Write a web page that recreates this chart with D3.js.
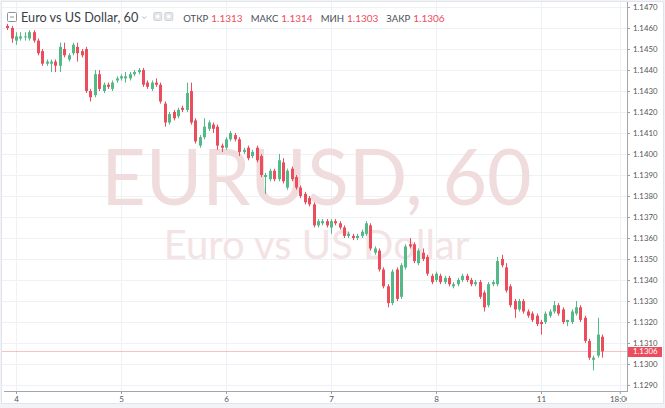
<!DOCTYPE html>
<html>
<head>
<meta charset="utf-8">
<script src="https://d3js.org/d3.v7.min.js"></script>
<style>
  body { margin: 0; background: #fff; }
  svg { display: block; }
</style>
</head>
<body>
<div id="chart"></div>
<script>
var w = 665, h = 408;

// hourly bars, index 0 is 22:00 on the 3rd
var opens = [
  1.1461,1.1460,1.1454,1.1455,1.1456,1.1455,1.1458,1.1454,1.1449,1.1443,
  1.1443,1.1444,1.1442,1.1450,1.1445,1.1448,1.1451,1.1449,1.1450,1.1430,
  1.1428,1.1438,1.1430,1.1433,1.1431,1.1435,1.1436,1.1436,1.1436,1.1438,
  1.1439,1.1440,1.1434,1.1431,1.1434,1.1433,1.1424,1.1415,1.1420,1.1418,
  1.1422,1.1421,1.1430,1.1416,1.1404,1.1408,1.1412,1.1414,1.1413,1.1404,
  1.1403,1.1407,1.1409,1.1407,1.1401,1.1403,1.1399,1.1403,1.1399,1.1389,
  1.1388,1.1392,1.1388,1.1396,1.1384,1.1393,1.1389,1.1384,1.1381,1.1379,
  1.1376,1.1366,1.1367,1.1368,1.1365,1.1368,1.1367,1.1365,1.1361,1.1361,
  1.1360,1.1361,1.1362,1.1366,1.1353,1.1354,1.1345,1.1337,1.1329,1.1345,
  1.1332,1.1346,1.1357,1.1357,1.1348,1.1353,1.1351,1.1342,1.1340,1.1342,
  1.1339,1.1341,1.1337,1.1338,1.1340,1.1342,1.1340,1.1338,1.1339,1.1334,
  1.1328,1.1338,1.1338,1.1350,1.1346,1.1337,1.1330,1.1326,1.1330,1.1325,
  1.1324,1.1323,1.1320,1.1320,1.1323,1.1325,1.1328,1.1326,1.1320,1.1320,
  1.1324,1.1327,1.1322,1.1311,1.1302,1.1304,1.1313
];
var highs = [
  1.1462,1.1461,1.1458,1.1458,1.1458,1.1459,1.1459,1.1455,1.1450,1.1445,
  1.1445,1.1445,1.1453,1.1453,1.1448,1.1453,1.1453,1.1450,1.1451,1.1431,
  1.1440,1.1440,1.1434,1.1434,1.1435,1.1437,1.1438,1.1439,1.1439,1.1440,
  1.1441,1.1441,1.1435,1.1435,1.1436,1.1434,1.1425,1.1420,1.1421,1.1422,
  1.1423,1.1434,1.1434,1.1417,1.1409,1.1417,1.1416,1.1415,1.1414,1.1405,
  1.1408,1.1411,1.1410,1.1408,1.1403,1.1404,1.1402,1.1404,1.1400,1.1391,
  1.1393,1.1393,1.1400,1.1398,1.1393,1.1394,1.1390,1.1385,1.1382,1.1380,
  1.1377,1.1369,1.1369,1.1369,1.1369,1.1369,1.1368,1.1366,1.1363,1.1362,
  1.1362,1.1364,1.1368,1.1367,1.1356,1.1355,1.1346,1.1338,1.1345,1.1346,
  1.1348,1.1357,1.1360,1.1358,1.1355,1.1355,1.1352,1.1343,1.1344,1.1343,
  1.1342,1.1342,1.1339,1.1341,1.1343,1.1343,1.1341,1.1340,1.1340,1.1335,
  1.1339,1.1340,1.1351,1.1352,1.1348,1.1338,1.1331,1.1331,1.1331,1.1326,
  1.1325,1.1324,1.1321,1.1325,1.1326,1.1330,1.1329,1.1327,1.1321,1.1326,
  1.1330,1.1328,1.1323,1.1312,1.1304,1.1322,1.1314
];
var lows = [
  1.1459,1.1453,1.1452,1.1454,1.1454,1.1454,1.1453,1.1447,1.1442,1.1442,
  1.1439,1.1439,1.1439,1.1446,1.1444,1.1447,1.1444,1.1446,1.1429,1.1425,
  1.1427,1.1430,1.1429,1.1431,1.1430,1.1434,1.1435,1.1434,1.1435,1.1437,
  1.1438,1.1432,1.1431,1.1430,1.1432,1.1424,1.1413,1.1414,1.1416,1.1417,
  1.1420,1.1420,1.1414,1.1405,1.1403,1.1407,1.1411,1.1410,1.1402,1.1401,
  1.1402,1.1406,1.1406,1.1399,1.1400,1.1397,1.1398,1.1396,1.1389,1.1381,
  1.1387,1.1387,1.1387,1.1386,1.1383,1.1387,1.1383,1.1379,1.1376,1.1375,
  1.1365,1.1365,1.1366,1.1365,1.1362,1.1366,1.1364,1.1360,1.1360,1.1359,
  1.1359,1.1360,1.1361,1.1354,1.1352,1.1344,1.1336,1.1327,1.1328,1.1330,
  1.1331,1.1345,1.1355,1.1348,1.1347,1.1349,1.1342,1.1338,1.1339,1.1338,
  1.1338,1.1337,1.1336,1.1337,1.1339,1.1339,1.1337,1.1337,1.1331,1.1325,
  1.1327,1.1337,1.1337,1.1346,1.1334,1.1327,1.1322,1.1325,1.1324,1.1322,
  1.1320,1.1318,1.1314,1.1319,1.1322,1.1324,1.1323,1.1319,1.1318,1.1319,
  1.1323,1.1320,1.1310,1.1302,1.1297,1.1303,1.1303
];
var closes = [
  1.1460,1.1455,1.1456,1.1456,1.1456,1.1458,1.1454,1.1448,1.1443,1.1444,
  1.1444,1.1442,1.1451,1.1447,1.1447,1.1452,1.1448,1.1447,1.1430,1.1427,
  1.1438,1.1431,1.1433,1.1432,1.1434,1.1436,1.1437,1.1437,1.1438,1.1439,
  1.1440,1.1433,1.1432,1.1434,1.1433,1.1425,1.1415,1.1419,1.1417,1.1421,
  1.1421,1.1429,1.1415,1.1406,1.1408,1.1413,1.1415,1.1412,1.1404,1.1403,
  1.1407,1.1410,1.1407,1.1401,1.1402,1.1398,1.1401,1.1397,1.1390,1.1390,
  1.1392,1.1388,1.1397,1.1387,1.1392,1.1388,1.1384,1.1380,1.1377,1.1376,
  1.1366,1.1368,1.1368,1.1366,1.1368,1.1367,1.1365,1.1361,1.1362,1.1360,
  1.1361,1.1363,1.1367,1.1355,1.1355,1.1345,1.1337,1.1329,1.1344,1.1331,
  1.1347,1.1356,1.1356,1.1349,1.1354,1.1350,1.1343,1.1339,1.1343,1.1339,
  1.1341,1.1338,1.1338,1.1340,1.1342,1.1340,1.1338,1.1339,1.1332,1.1327,
  1.1338,1.1339,1.1349,1.1347,1.1335,1.1328,1.1326,1.1330,1.1325,1.1323,
  1.1321,1.1319,1.1319,1.1324,1.1325,1.1328,1.1324,1.1320,1.1321,1.1325,
  1.1327,1.1321,1.1311,1.1303,1.1303,1.1314,1.1306
];

var timeTicks = [2, 26, 50, 74, 98, 122, 140];
var timeLabels = ["4", "5", "6", "7", "8", "11", "18:00"];
var priceTicks = [
  1.1290, 1.1300, 1.1310, 1.1320, 1.1330, 1.1340, 1.1350, 1.1360, 1.1370, 1.1380,
  1.1390, 1.1400, 1.1410, 1.1420, 1.1430, 1.1440, 1.1450, 1.1460, 1.1470
];

var symbol = "EURUSD";
var interval = "60";
var description = "Euro vs US Dollar";
var legendNames = ["ОТКР", "МАКС", "МИН", "ЗАКР"];

var upColor = "#53b987", downColor = "#eb4d5c";
var plotW = 627, plotH = 391;
var n = closes.length;
var font = "Lato, 'Liberation Sans', sans-serif";

var x = d3.scaleLinear().domain([-1.66, 141.66]).range([0, plotW]);
var y = d3.scaleLinear().domain([1.1290, 1.1470]).range([385, 7]);

var svg = d3.select("#chart")
    .append("svg")
    .attr("width", w)
    .attr("height", h);

// frame
svg.append("rect").attr("width", w).attr("height", h).attr("fill", "#f1f3f6");
svg.append("rect")
    .attr("x", 1.5).attr("y", 1.5)
    .attr("width", w - 3).attr("height", h - 6)
    .attr("fill", "#fff")
    .attr("stroke", "#e1e4ea");

svg.append("clipPath").attr("id", "plotClip")
    .append("rect").attr("x", 2).attr("y", 2).attr("width", plotW - 2).attr("height", plotH - 2);

var plot = svg.append("g").attr("clip-path", "url(#plotClip)");

// grid
plot.selectAll("line.hgrid")
    .data(priceTicks)
    .enter()
    .append("line")
    .attr("class", "hgrid")
    .attr("x1", 0).attr("x2", plotW)
    .attr("y1", function(d) { return Math.round(y(d)) + 0.5; })
    .attr("y2", function(d) { return Math.round(y(d)) + 0.5; })
    .attr("stroke", "#eef1f5");

plot.selectAll("line.vgrid")
    .data(timeTicks)
    .enter()
    .append("line")
    .attr("class", "vgrid")
    .attr("x1", function(d) { return Math.round(x(d)) + 0.5; })
    .attr("x2", function(d) { return Math.round(x(d)) + 0.5; })
    .attr("y1", 0).attr("y2", plotH)
    .attr("stroke", "#eef1f5");

// watermark
plot.append("text")
    .attr("x", plotW / 2 + 3).attr("y", 205)
    .attr("text-anchor", "middle")
    .attr("font-family", font)
    .attr("font-size", 77)
    .attr("fill", "#f1dcdd")
    .text(symbol + ", " + interval);

plot.append("text")
    .attr("x", plotW / 2 + 3).attr("y", 259)
    .attr("text-anchor", "middle")
    .attr("font-family", font)
    .attr("font-size", 40)
    .attr("fill", "#f4e3e4")
    .text(description);

// last price line
var lastPrice = closes[n - 1];
plot.append("line")
    .attr("x1", 0).attr("x2", plotW)
    .attr("y1", Math.round(y(lastPrice)) + 0.5)
    .attr("y2", Math.round(y(lastPrice)) + 0.5)
    .attr("stroke", downColor)
    .attr("stroke-opacity", 0.35);

// candles
var bars = d3.range(n);
var color = function(i) { return closes[i] >= opens[i] ? upColor : downColor; };

plot.selectAll("line.wick")
    .data(bars)
    .enter()
    .append("line")
    .attr("class", "wick")
    .attr("x1", function(i) { return Math.round(x(i)) + 0.5; })
    .attr("x2", function(i) { return Math.round(x(i)) + 0.5; })
    .attr("y1", function(i) { return y(highs[i]); })
    .attr("y2", function(i) { return y(lows[i]); })
    .attr("stroke", color)
    .attr("stroke-width", 1);

plot.selectAll("rect.body")
    .data(bars)
    .enter()
    .append("rect")
    .attr("class", "body")
    .attr("x", function(i) { return Math.round(x(i)) - 1; })
    .attr("y", function(i) { return y(Math.max(opens[i], closes[i])); })
    .attr("width", 3)
    .attr("height", function(i) { return Math.max(1, Math.abs(y(opens[i]) - y(closes[i]))); })
    .attr("fill", color);

// price axis
var yAxis = svg.append("g")
    .attr("transform", "translate(" + plotW + ",0)")
    .call(d3.axisRight(y).tickValues(priceTicks).tickFormat(d3.format(".4f")).tickSize(3).tickPadding(3).tickSizeOuter(0));
yAxis.select(".domain").remove();
yAxis.selectAll("line").attr("stroke", "#9a9ea6");
yAxis.selectAll("text").attr("fill", "#555").attr("font-family", font).attr("font-size", 7.8).attr("dy", "0.3em");
svg.append("line")
    .attr("x1", plotW + 0.5).attr("x2", plotW + 0.5)
    .attr("y1", 2).attr("y2", plotH)
    .attr("stroke", "#a3a6ad");

// time axis
svg.append("clipPath").attr("id", "timeClip")
    .append("rect").attr("x", -2).attr("y", -1).attr("width", plotW + 2).attr("height", 16);

var xAxis = svg.append("g")
    .attr("transform", "translate(0," + plotH + ")")
    .attr("clip-path", "url(#timeClip)")
    .call(d3.axisBottom(x).tickValues(timeTicks).tickFormat(function(d, i) { return timeLabels[i]; }).tickSize(3).tickPadding(2).tickSizeOuter(0));
xAxis.select(".domain").remove();
xAxis.selectAll("line").attr("stroke", "#9a9ea6");
xAxis.selectAll("text").attr("fill", "#555").attr("font-family", font).attr("font-size", 8);
svg.append("line")
    .attr("x1", 4).attr("x2", plotW + 1)
    .attr("y1", plotH + 0.5).attr("y2", plotH + 0.5)
    .attr("stroke", "#a3a6ad");

// last price tag
svg.append("rect")
    .attr("x", plotW + 1).attr("y", y(lastPrice) - 4.4)
    .attr("width", w - plotW - 4).attr("height", 10)
    .attr("fill", downColor);
svg.append("text")
    .attr("x", plotW + 6).attr("y", y(lastPrice) + 0.6)
    .attr("dy", "0.3em")
    .attr("font-family", font)
    .attr("font-size", 7.8)
    .attr("fill", "#fff")
    .text(d3.format(".4f")(lastPrice));

// header legend
var head = svg.append("g").attr("font-family", font);
head.append("rect")
    .attr("x", 7.5).attr("y", 12.5).attr("width", 9).attr("height", 9).attr("rx", 1)
    .attr("fill", "#fff").attr("stroke", "#8d929b");
head.append("line")
    .attr("x1", 10).attr("x2", 14).attr("y1", 17).attr("y2", 17)
    .attr("stroke", "#8d929b");

var title = head.append("text")
    .attr("x", 21).attr("y", 22)
    .attr("font-size", 12.7)
    .attr("fill", "#3b3f47")
    .text(description + ", " + interval);
var tx = 21 + title.node().getComputedTextLength();

head.append("path")
    .attr("d", "M" + (tx + 4) + ",16.5 l2,2 l2,-2")
    .attr("fill", "none").attr("stroke", "#b0b4bb");

[tx + 15, tx + 26].forEach(function(ix) {
    head.append("rect")
        .attr("x", ix + 0.5).attr("y", 12.5).attr("width", 8).attr("height", 8).attr("rx", 1)
        .attr("fill", "#e4e6ea").attr("stroke", "#d0d3d8");
    head.append("circle")
        .attr("cx", ix + 4.5).attr("cy", 16.5).attr("r", 1.8)
        .attr("fill", "#fff");
});

var legendValues = [opens[n - 1], highs[n - 1], lows[n - 1], closes[n - 1]];
var lx = tx + 45;
legendNames.forEach(function(name, i) {
    var t = head.append("text")
        .attr("x", lx).attr("y", 21.5)
        .attr("font-size", 9.5)
        .attr("fill", "#4a4e57")
        .text(name);
    lx += t.node().getComputedTextLength() + 3;
    var v = head.append("text")
        .attr("x", lx).attr("y", 21.5)
        .attr("font-size", 10)
        .attr("fill", downColor)
        .text(d3.format(".4f")(legendValues[i]));
    lx += v.node().getComputedTextLength() + 8;
});
</script>
</body>
</html>
